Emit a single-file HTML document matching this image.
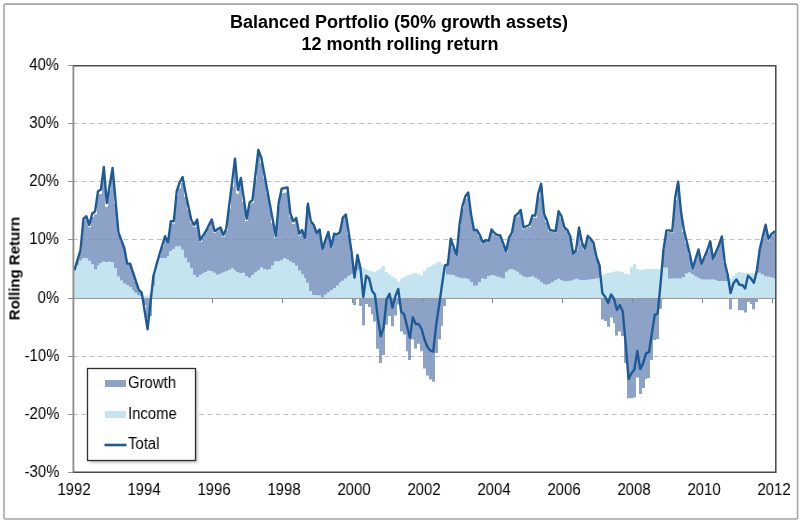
<!DOCTYPE html><html><head><meta charset="utf-8"><title>Balanced Portfolio</title><style>
*{margin:0;padding:0}
html,body{width:800px;height:522px;overflow:hidden;background:#fff}
body{position:relative;font-family:"Liberation Sans",sans-serif;color:#000}
.t{position:absolute;white-space:nowrap;line-height:1;will-change:transform}
.title{font-weight:bold;font-size:18px;left:0;width:800px;text-align:center}
.yl{font-size:16px;right:740.6px;text-align:right;transform:scaleX(0.93);transform-origin:100% 50%}
.xl{font-size:16px;width:60px;text-align:center;transform:scaleX(0.93)}
.lg{font-size:16px;transform:scaleX(0.93);transform-origin:0 50%}
.yt{font-weight:bold;font-size:15px;line-height:15px;width:120px;height:15px;text-align:center;transform:rotate(-90deg)}
</style></head><body>
<svg width="800" height="522" viewBox="0 0 800 522" style="position:absolute;left:0;top:0"><rect x="4" y="4.1" width="793.6" height="514.9" rx="1.5" fill="#fff" stroke="#a8a4aa" stroke-width="1.6"/><line x1="74" x2="775" y1="123.5" y2="123.5" stroke="#d5d1d7" stroke-width="1" stroke-dasharray="4.8 3.62" stroke-dashoffset="1.07"/><line x1="74" x2="775" y1="181.5" y2="181.5" stroke="#d5d1d7" stroke-width="1" stroke-dasharray="4.8 3.62" stroke-dashoffset="1.07"/><line x1="74" x2="775" y1="239.5" y2="239.5" stroke="#d5d1d7" stroke-width="1" stroke-dasharray="4.8 3.62" stroke-dashoffset="1.07"/><line x1="74" x2="775" y1="356.5" y2="356.5" stroke="#d5d1d7" stroke-width="1" stroke-dasharray="4.8 3.62" stroke-dashoffset="1.07"/><line x1="74" x2="775" y1="414.5" y2="414.5" stroke="#d5d1d7" stroke-width="1" stroke-dasharray="4.8 3.62" stroke-dashoffset="1.07"/><defs><clipPath id="pc"><rect x="74" y="66" width="701.5" height="406"/></clipPath></defs><g clip-path="url(#pc)"><path d="M74 269.03h2v29.47h-2zM76 264.98h3v33.52h-3zM79 260.38h3v38.12h-3zM82 258.04h3v40.46h-3zM85 258.28h3v40.22h-3zM88 260.69h3v37.81h-3zM91 264.27h3v34.23h-3zM94 269.39h3v29.11h-3zM97 265.58h2v32.92h-2zM99 263.15h3v35.35h-3zM102 261.59h3v36.91h-3zM105 261.9h3v36.6h-3zM108 261.73h3v36.77h-3zM111 262.25h3v36.25h-3zM114 268.35h3v30.15h-3zM117 276.56h3v21.94h-3zM120 280.52h3v17.98h-3zM123 283.61h3v14.89h-3zM126 285.05h3v13.45h-3zM129 286.93h3v11.57h-3zM132 290.33h2v8.17h-2zM134 292.7h3v5.8h-3zM137 295.23h3v3.27h-3zM140 296.36h3v2.14h-3zM143 296.32h3v2.18h-3zM146 295.52h3v2.98h-3zM149 292.99h3v5.51h-3zM152 285.63h3v12.87h-3zM155 261.36h3v37.14h-3zM158 258h3v40.5h-3zM161 258h3v40.5h-3zM164 258h3v40.5h-3zM167 256.11h2v42.39h-2zM169 250.97h3v47.53h-3zM172 248.89h3v49.61h-3zM175 246.48h3v52.02h-3zM178 246.25h3v52.25h-3zM181 249.67h3v48.83h-3zM184 257.72h3v40.78h-3zM187 262.48h3v36.02h-3zM190 268.35h3v30.15h-3zM193 275.11h3v23.39h-3zM196 276.9h3v21.6h-3zM199 274.64h3v23.86h-3zM202 273.32h2v25.18h-2zM204 272.06h3v26.44h-3zM207 270.61h3v27.89h-3zM210 270.93h3v27.57h-3zM213 272.67h3v25.83h-3zM216 274.68h3v23.82h-3zM219 273.77h3v24.73h-3zM222 272.4h3v26.1h-3zM225 271.13h3v27.37h-3zM228 269.66h3v28.84h-3zM231 268.18h3v30.32h-3zM234 270.2h2v28.3h-2zM236 271.93h3v26.57h-3zM239 272.95h3v25.55h-3zM242 272.82h3v25.68h-3zM245 276.33h3v22.17h-3zM248 277.85h3v20.65h-3zM251 274.94h3v23.56h-3zM254 272.48h3v26.02h-3zM257 270.27h3v28.23h-3zM260 267.51h3v30.99h-3zM263 269.04h3v29.46h-3zM266 269.74h3v28.76h-3zM269 269.05h2v29.45h-2zM271 265.41h3v33.09h-3zM274 261.25h3v37.25h-3zM277 261.25h3v37.25h-3zM280 260.17h3v38.33h-3zM283 258.27h3v40.23h-3zM286 259.62h3v38.88h-3zM289 261.46h3v37.04h-3zM292 262.91h3v35.59h-3zM295 265.82h3v32.68h-3zM298 270.54h3v27.96h-3zM301 274.43h3v24.07h-3zM304 278.11h2v20.39h-2zM306 282.65h3v15.85h-3zM309 291.09h3v7.41h-3zM312 294.97h3v3.53h-3zM315 295h3v3.5h-3zM318 295.54h3v2.96h-3zM321 297.48h3v1.02h-3zM324 294.61h3v3.89h-3zM327 292.21h3v6.29h-3zM330 290.02h3v8.48h-3zM333 288.08h3v10.42h-3zM336 285.45h3v13.05h-3zM339 282.54h2v15.96h-2zM341 280.7h3v17.8h-3zM344 278.46h3v20.04h-3zM347 276.03h3v22.47h-3zM350 274.19h3v24.31h-3zM353 272.15h3v26.35h-3zM356 270.27h3v28.23h-3zM359 268.81h3v29.69h-3zM362 268.05h3v30.45h-3zM365 269.35h3v29.15h-3zM368 270.69h3v27.81h-3zM371 271.29h2v27.21h-2zM373 271.89h3v26.61h-3zM376 270.52h3v27.98h-3zM379 268.82h3v29.68h-3zM382 265.91h3v32.59h-3zM385 271.98h3v26.52h-3zM388 274.34h3v24.16h-3zM391 276.61h3v21.89h-3zM394 278.37h3v20.13h-3zM397 281.39h3v17.11h-3zM400 278.49h3v20.01h-3zM403 276.67h3v21.83h-3zM406 275.57h2v22.93h-2zM408 274.7h3v23.8h-3zM411 273.83h3v24.67h-3zM414 273h3v25.5h-3zM417 274.16h3v24.34h-3zM420 275.35h3v23.15h-3zM423 270.77h3v27.73h-3zM426 267.5h3v31h-3zM429 266.06h3v32.44h-3zM432 264.62h3v33.88h-3zM435 262.85h3v35.65h-3zM438 261.56h3v36.94h-3zM441 263.99h2v34.51h-2zM443 265.94h3v32.56h-3zM446 274.57h3v23.93h-3zM449 274.81h3v23.69h-3zM452 275.32h3v23.18h-3zM455 276.78h3v21.72h-3zM458 277.87h3v20.63h-3zM461 278.46h3v20.04h-3zM464 278.17h3v20.33h-3zM467 279.22h3v19.28h-3zM470 282.17h3v16.33h-3zM473 285.82h3v12.68h-3zM476 285.52h2v12.98h-2zM478 282.38h3v16.12h-3zM481 278.6h3v19.9h-3zM484 278.96h3v19.54h-3zM487 276.04h3v22.46h-3zM490 274.89h3v23.61h-3zM493 275.62h3v22.88h-3zM496 276.52h3v21.98h-3zM499 277.6h3v20.9h-3zM502 278.57h3v19.93h-3zM505 271.64h3v26.86h-3zM508 269.86h2v28.64h-2zM510 268.98h3v29.52h-3zM513 269.95h3v28.55h-3zM516 271.85h3v26.65h-3zM519 274.45h3v24.05h-3zM522 276.53h3v21.97h-3zM525 277.26h3v21.24h-3zM528 277.01h3v21.49h-3zM531 276.29h3v22.21h-3zM534 277.63h3v20.87h-3zM537 279.44h3v19.06h-3zM540 282.35h3v16.15h-3zM543 283.88h2v14.62h-2zM545 284.77h3v13.73h-3zM548 283.8h3v14.7h-3zM551 281.91h3v16.59h-3zM554 280.29h3v18.21h-3zM557 278.83h3v19.67h-3zM560 280.13h3v18.37h-3zM563 281.25h3v17.25h-3zM566 281.25h3v17.25h-3zM569 280.75h3v17.75h-3zM572 279.78h3v18.72h-3zM575 278.81h3v19.69h-3zM578 279.67h2v18.83h-2zM580 280h3v18.5h-3zM583 280h3v18.5h-3zM586 279.73h3v18.77h-3zM589 279.4h3v19.1h-3zM592 278.96h3v19.54h-3zM595 278.38h3v20.12h-3zM598 277.65h3v20.85h-3zM601 275.34h3v23.16h-3zM604 273.64h3v24.86h-3zM607 272.95h3v25.55h-3zM610 272.29h3v26.21h-3zM613 271.7h2v26.8h-2zM615 271.25h3v27.25h-3zM618 271.25h3v27.25h-3zM621 272.2h3v26.3h-3zM624 273.53h3v24.97h-3zM627 274.15h3v24.35h-3zM630 267.25h3v31.25h-3zM633 263.89h3v34.61h-3zM636 269.01h3v29.49h-3zM639 269.74h3v28.76h-3zM642 269.38h3v29.12h-3zM645 268.82h2v29.68h-2zM647 269.03h3v29.47h-3zM650 269.1h3v29.4h-3zM653 269.1h3v29.4h-3zM656 269.1h3v29.4h-3zM659 268.82h3v29.68h-3zM662 267.5h3v31h-3zM665 267.75h3v30.75h-3zM668 278.71h3v19.79h-3zM671 278.5h3v20h-3zM674 278.5h3v20h-3zM677 278.5h3v20h-3zM680 278.5h2v20h-2zM682 277.04h3v21.46h-3zM685 273.48h3v25.02h-3zM688 272.39h3v26.11h-3zM691 274.22h3v24.28h-3zM694 276.31h3v22.19h-3zM697 277.77h3v20.73h-3zM700 279.13h3v19.37h-3zM703 279.4h3v19.1h-3zM706 279.4h3v19.1h-3zM709 279.4h3v19.1h-3zM712 279.4h3v19.1h-3zM715 279.9h2v18.6h-2zM717 280.9h3v17.6h-3zM720 280.9h3v17.6h-3zM723 280.9h3v17.6h-3zM726 280.9h3v17.6h-3zM729 278.58h3v19.92h-3zM732 275.96h3v22.54h-3zM735 273.34h3v25.16h-3zM738 272.11h3v26.39h-3zM741 272.57h3v25.93h-3zM744 273h3v25.5h-3zM747 273h3v25.5h-3zM750 273h2v25.5h-2zM752 273h3v25.5h-3zM755 272.4h3v26.1h-3zM758 272.86h3v25.64h-3zM761 274.43h3v24.07h-3zM764 276.14h3v22.36h-3zM767 276.87h3v21.63h-3zM770 277.6h3v20.9h-3zM773 278.33h2v20.17h-2z" fill="#c4e4f0"/><path d="M76 260h3v4.97h-3zM79 250.68h3v9.7h-3zM82 221.48h3v36.56h-3zM85 219.16h3v39.13h-3zM88 227.32h3v33.37h-3zM91 216.72h3v47.54h-3zM94 214.16h3v55.23h-3zM97 195.46h2v70.12h-2zM99 193.98h3v69.18h-3zM102 173h3v88.59h-3zM105 206.71h3v55.19h-3zM108 190.32h3v71.4h-3zM111 173.88h3v88.37h-3zM114 203.78h3v64.57h-3zM117 234.16h3v42.39h-3zM120 241.5h3v39.02h-3zM123 248.91h3v34.7h-3zM126 264h3v21.05h-3zM129 264.21h3v22.71h-3zM132 272.75h2v17.58h-2zM134 281.36h3v11.34h-3zM137 290.03h3v5.2h-3zM140 292.61h3v3.75h-3zM143 298.5h3v6.5h-3zM146 298.5h3v19.5h-3zM149 298.5h3v17.5h-3zM152 276h3v9.63h-3zM158 255.21h3v2.79h-3zM161 246.49h3v11.51h-3zM164 237.77h3v20.23h-3zM167 243.49h2v12.62h-2zM169 223.68h3v27.29h-3zM172 223.61h3v25.28h-3zM175 196.19h3v50.29h-3zM178 188.23h3v58.02h-3zM181 183.1h3v66.57h-3zM184 197.07h3v60.65h-3zM187 209.73h3v52.74h-3zM190 222.51h3v45.84h-3zM193 227.02h3v48.1h-3zM196 221.63h3v55.27h-3zM199 241.42h3v33.22h-3zM202 237.26h2v36.07h-2zM204 233.11h3v38.96h-3zM207 227.55h3v43.06h-3zM210 221.94h3v48.99h-3zM213 233.09h3v39.58h-3zM216 231.23h3v43.45h-3zM219 229.47h3v44.31h-3zM222 236.68h3v35.73h-3zM225 230.75h3v40.39h-3zM228 208.6h3v61.05h-3zM231 186.57h3v81.6h-3zM234 164.17h2v106.03h-2zM236 193.74h3v78.19h-3zM239 182.17h3v90.78h-3zM242 201.66h3v71.16h-3zM245 220.95h3v55.38h-3zM248 205.18h3v72.67h-3zM251 203.04h3v71.9h-3zM254 179.36h3v93.12h-3zM257 155.84h3v114.43h-3zM260 163.36h3v104.14h-3zM263 178.18h3v90.86h-3zM266 193.15h3v76.59h-3zM269 208.24h2v60.8h-2zM271 223.17h3v42.24h-3zM274 237.85h3v23.4h-3zM277 206.26h3v54.99h-3zM280 193.46h3v66.71h-3zM283 192.86h3v65.41h-3zM286 192.32h3v67.3h-3zM289 216.79h3v44.67h-3zM292 223.8h3v39.11h-3zM295 220.69h3v45.13h-3zM298 235.52h3v35.02h-3zM301 231.84h3v42.59h-3zM304 239.41h2v38.7h-2zM306 205.9h3v76.75h-3zM309 222.14h3v68.95h-3zM312 225.42h3v69.55h-3zM315 233.37h3v61.63h-3zM318 229.84h3v65.7h-3zM321 248.84h3v48.65h-3zM324 240.74h3v53.87h-3zM327 232.65h3v59.56h-3zM330 247.63h3v42.4h-3zM333 234.72h3v53.35h-3zM336 235.64h3v49.81h-3zM339 233.39h2v49.15h-2zM341 219.43h3v61.27h-3zM344 216.7h3v61.76h-3zM347 234.18h3v41.85h-3zM350 253.41h3v20.78h-3zM353 298.5h3v6.6h-3zM356 255h3v15.27h-3zM359 298.5h3v7.5h-3zM359 267.5h3v1.31h-3zM362 298.5h3v26.7h-3zM365 298.5h3v5.6h-3zM368 298.5h3v8.5h-3zM371 298.5h2v15.7h-2zM373 298.5h3v22.9h-3zM376 298.5h3v50.2h-3zM379 298.5h3v64.6h-3zM382 298.5h3v56.5h-3zM385 298.5h3v26.3h-3zM388 298.5h3v17.5h-3zM391 298.5h3v27.7h-3zM394 298.5h3v16.9h-3zM397 298.5h3v6.1h-3zM400 298.5h3v33h-3zM403 298.5h3v36h-3zM406 298.5h2v52.7h-2zM408 298.5h3v61.4h-3zM411 298.5h3v41.1h-3zM414 298.5h3v50h-3zM417 298.5h3v45.2h-3zM420 298.5h3v52.8h-3zM423 298.5h3v70h-3zM426 298.5h3v76.9h-3zM429 298.5h3v80.9h-3zM432 298.5h3v83.3h-3zM435 298.5h3v54.5h-3zM438 298.5h3v40.8h-3zM441 298.5h2v27.2h-2zM443 298.5h3v7.5h-3zM446 264.91h3v9.65h-3zM449 240.22h3v34.59h-3zM452 248.01h3v27.32h-3zM455 255.81h3v20.97h-3zM458 226.88h3v50.99h-3zM461 208.74h3v69.72h-3zM464 199.11h3v79.05h-3zM467 195.38h3v83.85h-3zM470 216.89h3v65.29h-3zM473 231.71h3v54.11h-3zM476 231.24h2v54.28h-2zM478 236.31h3v46.06h-3zM481 243.74h3v34.86h-3zM484 241.31h3v37.66h-3zM487 242.59h3v33.45h-3zM490 231.34h3v43.54h-3zM493 234.68h3v40.94h-3zM496 236.57h3v39.95h-3zM499 237.01h3v40.58h-3zM502 244.58h3v33.99h-3zM505 252.19h3v19.45h-3zM508 239.09h2v30.76h-2zM510 234.35h3v34.63h-3zM513 218.89h3v51.07h-3zM516 216.41h3v55.44h-3zM519 212.67h3v61.78h-3zM522 229.35h3v47.17h-3zM525 228.11h3v49.14h-3zM528 226.92h3v50.09h-3zM531 217.82h3v58.46h-3zM534 217.73h3v59.91h-3zM537 196.56h3v82.88h-3zM540 186.49h3v95.86h-3zM543 215.51h2v68.37h-2zM545 222.02h3v62.76h-3zM548 231.36h3v52.44h-3zM551 232.09h3v49.82h-3zM554 232.79h3v47.5h-3zM557 213.54h3v65.29h-3zM560 218.27h3v61.86h-3zM563 229.09h3v52.16h-3zM566 231.52h3v49.73h-3zM569 237.61h3v43.14h-3zM572 254.59h3v25.19h-3zM575 250.98h3v27.83h-3zM578 229.19h2v50.48h-2zM580 243.69h3v36.31h-3zM583 249.74h3v30.26h-3zM586 237.17h3v42.56h-3zM589 240.09h3v39.32h-3zM592 244.21h3v34.76h-3zM595 257.74h3v20.64h-3zM598 265.45h3v12.2h-3zM601 298.5h3v21h-3zM604 298.5h3v22.4h-3zM607 298.5h3v28.2h-3zM610 298.5h3v19.1h-3zM613 298.5h2v24.8h-2zM615 298.5h3v37.1h-3zM618 298.5h3v33h-3zM621 298.5h3v37.5h-3zM624 298.5h3v64.5h-3zM627 298.5h3v99.8h-3zM630 298.5h3v99.8h-3zM633 298.5h3v99.1h-3zM636 298.5h3v79.1h-3zM639 298.5h3v95.5h-3zM642 298.5h3v89.5h-3zM645 298.5h2v80.5h-2zM647 298.5h3v79.5h-3zM650 298.5h3v61.5h-3zM653 298.5h3v41.5h-3zM656 298.5h3v40.5h-3zM659 298.5h3v10.2h-3zM662 250.37h3v17.13h-3zM665 232.38h3v35.37h-3zM668 232.04h3v46.67h-3zM671 232.92h3v45.58h-3zM674 200.29h3v78.21h-3zM677 184.93h3v93.57h-3zM680 214.29h2v64.21h-2zM682 231.74h3v45.3h-3zM685 243.35h3v30.13h-3zM688 254.83h3v17.56h-3zM691 268.45h3v5.77h-3zM694 259.47h3v16.84h-3zM697 250.41h3v27.36h-3zM700 264.5h3v14.63h-3zM703 257.88h3v21.52h-3zM706 251.26h3v28.14h-3zM709 242.55h3v36.85h-3zM712 259.48h3v19.92h-3zM715 252.8h2v27.1h-2zM717 246.09h3v34.81h-3zM720 237.84h3v43.06h-3zM723 263.06h3v17.84h-3zM726 274.89h3v6.01h-3zM729 298.5h3v10.8h-3zM738 298.5h3v11.7h-3zM741 298.5h3v11.7h-3zM744 298.5h3v14.1h-3zM747 298.5h3v3.5h-3zM750 298.5h2v5.5h-2zM752 298.5h3v10.8h-3zM755 298.5h3v3.5h-3zM755 271h3v1.4h-3zM758 250.43h3v22.43h-3zM761 238.6h3v35.83h-3zM764 226.68h3v49.46h-3zM767 240.22h3v36.65h-3zM770 235.66h3v41.93h-3zM773 233.32h2v45.01h-2z" fill="#8da2c7"/></g><line x1="74" x2="775" y1="123.5" y2="123.5" stroke="rgba(60,60,100,0.13)" stroke-width="1" stroke-dasharray="4.8 3.62" stroke-dashoffset="1.07"/><line x1="74" x2="775" y1="181.5" y2="181.5" stroke="rgba(60,60,100,0.13)" stroke-width="1" stroke-dasharray="4.8 3.62" stroke-dashoffset="1.07"/><line x1="74" x2="775" y1="239.5" y2="239.5" stroke="rgba(60,60,100,0.13)" stroke-width="1" stroke-dasharray="4.8 3.62" stroke-dashoffset="1.07"/><line x1="74" x2="775" y1="356.5" y2="356.5" stroke="rgba(60,60,100,0.13)" stroke-width="1" stroke-dasharray="4.8 3.62" stroke-dashoffset="1.07"/><line x1="74" x2="775" y1="414.5" y2="414.5" stroke="rgba(60,60,100,0.13)" stroke-width="1" stroke-dasharray="4.8 3.62" stroke-dashoffset="1.07"/><line x1="73" x2="775.5" y1="298.5" y2="298.5" stroke="#9e968f" stroke-width="1"/><line x1="142.5" x2="142.5" y1="298.5" y2="303" stroke="#8a8a8a" stroke-width="1"/><line x1="212.5" x2="212.5" y1="298.5" y2="303" stroke="#8a8a8a" stroke-width="1"/><line x1="282.5" x2="282.5" y1="298.5" y2="303" stroke="#8a8a8a" stroke-width="1"/><line x1="352.5" x2="352.5" y1="298.5" y2="303" stroke="#8a8a8a" stroke-width="1"/><line x1="422.5" x2="422.5" y1="298.5" y2="303" stroke="#8a8a8a" stroke-width="1"/><line x1="492.5" x2="492.5" y1="298.5" y2="303" stroke="#8a8a8a" stroke-width="1"/><line x1="562.5" x2="562.5" y1="298.5" y2="303" stroke="#8a8a8a" stroke-width="1"/><line x1="632.5" x2="632.5" y1="298.5" y2="303" stroke="#8a8a8a" stroke-width="1"/><line x1="702.5" x2="702.5" y1="298.5" y2="303" stroke="#8a8a8a" stroke-width="1"/><line x1="772.5" x2="772.5" y1="298.5" y2="303" stroke="#8a8a8a" stroke-width="1"/><g clip-path="url(#pc2)"><polyline points="74.7,269.4 77.62,259.7 80.53,250 83.45,218.75 86.36,216.25 89.28,225 92.19,213.75 95.11,211.25 98.02,191.25 100.94,189.5 103.85,167 106.77,203 109.68,185.5 112.59,168 115.51,200.25 118.43,232.5 121.34,240.25 124.25,248 127.17,263.5 130.09,263.75 133,272.5 135.92,281.25 138.83,290 141.75,292.6 144.66,311 147.57,329.4 150.49,302.7 153.41,276 156.32,265.5 159.24,255 162.15,245.62 165.06,236.25 167.98,242.5 170.9,221.25 173.81,221.25 176.73,191.25 179.64,182.5 182.56,177 185.47,192.5 188.38,206.25 191.3,220 194.22,225 197.13,219.5 200.05,240 202.96,235.63 205.88,231.25 208.79,225.37 211.7,219.5 214.62,231.25 217.54,229.37 220.45,227.5 223.37,235 226.28,228.75 229.19,205.42 232.11,182.08 235.02,158.75 237.94,190 240.86,178 243.77,198.37 246.69,218.75 249.6,202.5 252.51,200 255.43,175 258.35,150 261.26,157.5 264.18,173.33 267.09,189.17 270,205 272.92,220.63 275.83,236.25 278.75,202.5 281.67,188.75 284.58,188 287.5,187.5 290.41,213.75 293.32,221.25 296.24,218 299.16,233.75 302.07,230 304.99,238 307.9,203.75 310.81,221.25 313.73,225 316.64,233 319.56,229.5 322.48,248.75 325.39,240.38 328.31,232 331.22,247 334.13,233.75 337.05,234.5 339.96,232 342.88,217.5 345.8,214.5 348.71,232.5 351.62,252.5 354.54,277.5 357.45,255 360.37,267.5 363.28,297 366.2,275.8 369.12,278.5 372.03,290.6 374.94,294.7 377.86,318.3 380.77,336.2 383.69,327.2 386.61,299.5 389.52,293.8 392.44,307.7 395.35,296.3 398.26,289 401.18,311.8 404.09,314.2 407.01,326 409.93,337.8 412.84,317.1 415.75,324 418.67,324 421.58,329 424.5,339.5 427.42,347 430.33,350.5 433.25,351.7 436.16,325 439.07,305.5 441.99,285 444.9,265.5 447.82,264.5 450.74,238.75 453.65,246.87 456.56,255 459.48,225 462.39,206.25 465.31,196.25 468.22,192.5 471.14,215 474.06,230.5 476.97,230 479.88,235 482.8,242.5 485.71,240 488.63,241.25 491.55,229.5 494.46,233 497.38,235 500.29,235.5 503.2,243.37 506.12,251.25 509.03,237.5 511.95,232.5 514.87,216.25 517.78,213.75 520.7,210 523.61,227.5 526.52,226.25 529.44,225 532.36,215.5 535.27,215.5 538.19,193.75 541.1,183.75 544.01,213.75 546.93,220.5 549.85,230 552.76,230.62 555.68,231.25 558.59,211.25 561.5,216.25 564.42,227.5 567.34,230 570.25,236.25 573.17,253.75 576.08,250 579,227.5 581.91,242.5 584.83,248.75 587.74,235.75 590.66,238.75 593.57,243 596.49,257 599.4,265 602.32,293.1 605.23,296.9 608.15,303.1 611.06,294.4 613.98,298.75 616.89,310 619.81,305 622.72,311.5 625.64,343 628.55,379.1 631.47,373.3 634.38,369.6 637.3,350.9 640.21,369.1 643.12,363.4 646.04,353.4 648.96,352.2 651.87,333.5 654.79,314.9 657.7,313.7 660.62,283.2 663.53,249.4 666.45,230.4 669.36,230.4 672.28,231.3 675.19,197.5 678.11,181.6 681.02,212 683.94,230 686.85,242 689.77,254 692.68,268.2 695.6,258.8 698.51,249.4 701.43,264 704.34,257.15 707.26,250.3 710.17,241.3 713.09,258.8 716,251.9 718.92,245 721.83,236.5 724.75,262.5 727.66,274.7 730.58,293.1 733.49,283.2 736.41,279.4 739.32,284.7 742.24,285 745.15,288.4 748.07,275.6 750.98,278.5 753.9,282.8 756.81,271 759.73,249.4 762.64,237.05 765.56,224.7 768.47,238.8 771.39,234.1 774.3,231.7" fill="none" stroke="#1d5b97" stroke-width="2.4" stroke-linejoin="round" stroke-linecap="round"/></g><defs><clipPath id="pc2"><rect x="73" y="60" width="702.5" height="420"/></clipPath></defs><line x1="73.4" x2="73.4" y1="65.5" y2="472.5" stroke="#8c8c8c" stroke-width="1.8"/><line x1="68.3" x2="74" y1="65.5" y2="65.5" stroke="#8c8c8c" stroke-width="1"/><line x1="68.3" x2="74" y1="123.5" y2="123.5" stroke="#8c8c8c" stroke-width="1"/><line x1="68.3" x2="74" y1="181.5" y2="181.5" stroke="#8c8c8c" stroke-width="1"/><line x1="68.3" x2="74" y1="239.5" y2="239.5" stroke="#8c8c8c" stroke-width="1"/><line x1="68.3" x2="74" y1="298.5" y2="298.5" stroke="#8c8c8c" stroke-width="1"/><line x1="68.3" x2="74" y1="356.5" y2="356.5" stroke="#8c8c8c" stroke-width="1"/><line x1="68.3" x2="74" y1="414.5" y2="414.5" stroke="#8c8c8c" stroke-width="1"/><line x1="68.3" x2="74" y1="472.5" y2="472.5" stroke="#8c8c8c" stroke-width="1"/><polyline points="73.5,65.8 775.8,65.8 775.8,472.2 73.5,472.2" fill="none" stroke="#4a4a4a" stroke-width="1.5"/><defs><filter id="sh" x="-20%" y="-20%" width="140%" height="140%"><feGaussianBlur stdDeviation="1.8"/></filter></defs><rect x="89.5" y="370.5" width="108" height="92" fill="#000" opacity="0.28" filter="url(#sh)"/><rect x="87.5" y="368.5" width="108" height="92" fill="#fff" stroke="#2e2e2e" stroke-width="1.3"/><rect x="105" y="380" width="21" height="7" fill="#8da2c7"/><rect x="105" y="411" width="21" height="7" fill="#c4e4f0"/><line x1="104.5" x2="126.5" y1="445" y2="445" stroke="#1d5b97" stroke-width="2.6"/></svg>
<div class="t title" style="top:13.2px;left:-0.8px">Balanced Portfolio (50% growth assets)</div>
<div class="t title" style="top:35.1px">12 month rolling return</div>
<div class="t yl" style="top:56.7px">40%</div>
<div class="t yl" style="top:114.7px">30%</div>
<div class="t yl" style="top:172.7px">20%</div>
<div class="t yl" style="top:230.7px">10%</div>
<div class="t yl" style="top:289.7px">0%</div>
<div class="t yl" style="top:347.7px">-10%</div>
<div class="t yl" style="top:405.7px">-20%</div>
<div class="t yl" style="top:463.7px">-30%</div>
<div class="t xl" style="left:44.3px;top:482.1px">1992</div>
<div class="t xl" style="left:114.22px;top:482.1px">1994</div>
<div class="t xl" style="left:184.14px;top:482.1px">1996</div>
<div class="t xl" style="left:254.06px;top:482.1px">1998</div>
<div class="t xl" style="left:323.98px;top:482.1px">2000</div>
<div class="t xl" style="left:393.9px;top:482.1px">2002</div>
<div class="t xl" style="left:463.82px;top:482.1px">2004</div>
<div class="t xl" style="left:533.74px;top:482.1px">2006</div>
<div class="t xl" style="left:603.66px;top:482.1px">2008</div>
<div class="t xl" style="left:673.58px;top:482.1px">2010</div>
<div class="t xl" style="left:743.5px;top:482.1px">2012</div>
<div class="t lg" style="left:128.3px;top:375.1px">Growth</div>
<div class="t lg" style="left:128.3px;top:406.1px">Income</div>
<div class="t lg" style="left:128.3px;top:436.2px">Total</div>
<div class="t yt" style="left:-45.7px;top:261.4px">Rolling Return</div>
</body></html>
